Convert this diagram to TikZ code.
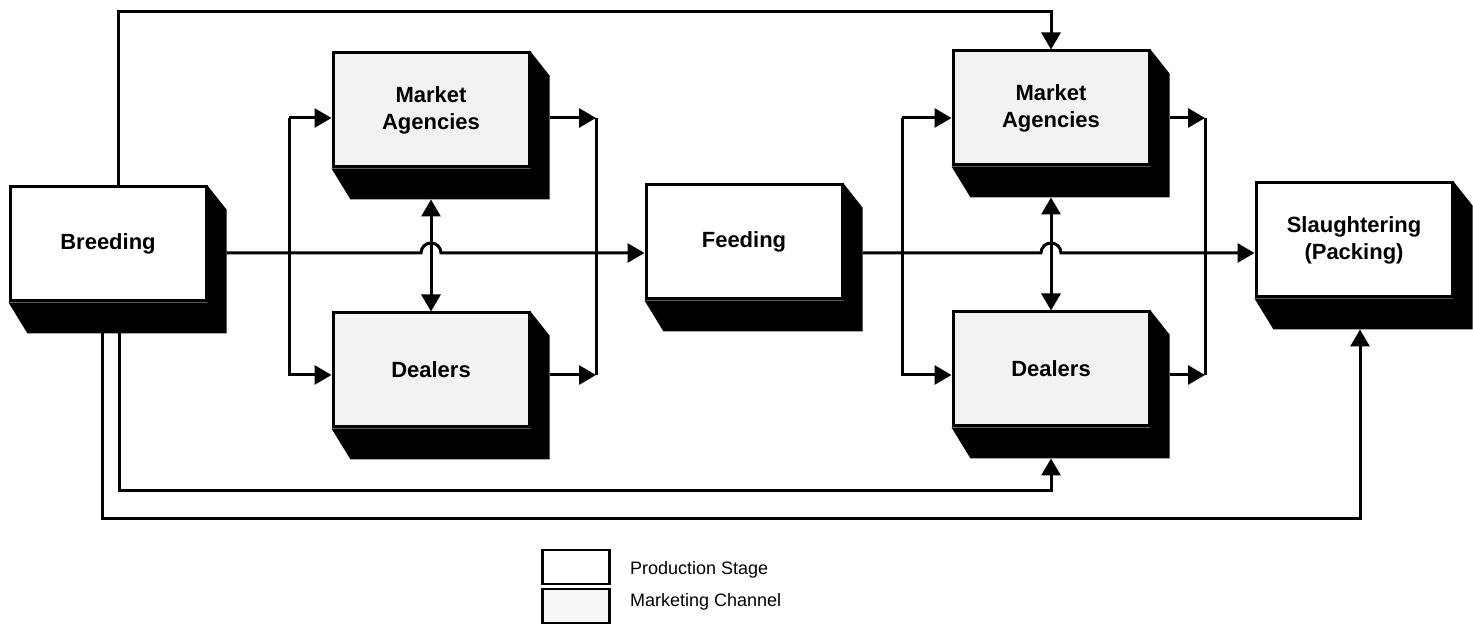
\documentclass[tikz,border=0pt]{standalone}
\usepackage{fontspec}
\setmainfont{Liberation Sans}
\usepackage{tikz}
\usetikzlibrary{arrows.meta}
\usetikzlibrary{calc}

\begin{document}
\begin{tikzpicture}[x=0.5pt,y=-0.5pt,
    >={Triangle[length=8.5pt,width=9.5pt]},
    stage/.style={draw,line width=1.5pt,fill=white,minimum width=98pt,minimum height=57pt,
      font=\fontsize{11}{13.5}\selectfont\bfseries,align=center},
    channel/.style={stage,fill=black!5},
    link/.style={line width=1.5pt},
    flow/.style={link,->},
    legbox/.style={draw,line width=1.2pt,minimum width=33.5pt,minimum height=17pt},
    legtext/.style={anchor=west,inner sep=0pt,font=\fontsize{9}{11}\selectfont}]

  \useasboundingbox (0,0) rectangle (1473,625);

  % production stages and marketing channels
  \node[stage] (breed) at (108,244) {Breeding};
  \node[channel] (agent1) at (431,110) {Market\\Agencies};
  \node[channel] (deal1) at (431,370) {Dealers};
  \node[stage] (feed) at (744,242) {Feeding};
  \node[channel] (agent2) at (1051,108) {Market\\Agencies};
  \node[channel] (deal2) at (1051,369) {Dealers};
  \node[stage] (slaugh) at (1354,240) {Slaughtering\\(Packing)};

  \foreach \b in {breed,agent1,deal1,feed,agent2,deal2,slaugh}
      \fill (\b.north east) -- ++(19,24) -- ($(\b.south east)+(19,31)$)
          -- ($(\b.south west)+(19,31)$) -- (\b.south west) -- (\b.south east) -- cycle;

  \coordinate (main) at (0,253);
  \coordinate (hi) at (0,118);
  \coordinate (lo) at (0,375);
  \coordinate (top) at (0,12);
  \coordinate (low1) at (0,491);
  \coordinate (low2) at (0,519);
  \coordinate (busA) at (289,0);
  \coordinate (busB) at (596,0);
  \coordinate (busC) at (902,0);
  \coordinate (busD) at (1205,0);

  % main line with hops
  \draw[flow] ($(breed.east |- main)+(19,0)$) -- ($(agent1.south |- main)+(-10,0)$)
      arc[start angle=180,end angle=360,radius=10] -- (feed.west |- main);
  \draw[flow] ($(feed.east |- main)+(19,0)$) -- ($(agent2.south |- main)+(-10,0)$)
      arc[start angle=180,end angle=360,radius=10] -- (slaugh.west |- main);

  \draw[link,<->] ($(agent1.south)+(0,31)$) -- (deal1.north);
  \draw[link,<->] ($(agent2.south)+(0,31)$) -- (deal2.north);

  % buses
  \draw[flow] (busA |- hi) -- (agent1.west |- hi);
  \draw[flow] (busA |- hi) |- (deal1.west |- lo);
  \draw[flow] ($(agent1.east |- hi)+(19,0)$) -- (busB |- hi);
  \draw[flow] ($(deal1.east |- lo)+(19,0)$) -- (busB |- lo);
  \draw[link] (busB |- hi) -- (busB |- lo);

  \draw[flow] (busC |- hi) -- (agent2.west |- hi);
  \draw[flow] (busC |- hi) |- (deal2.west |- lo);
  \draw[flow] ($(agent2.east |- hi)+(19,0)$) -- (busD |- hi);
  \draw[flow] ($(deal2.east |- lo)+(19,0)$) -- (busD |- lo);
  \draw[link] (busD |- hi) -- (busD |- lo);

  % direct routes
  \draw[flow] ($(breed.north)+(10,0)$) |- (top -| agent2.north) -- (agent2.north);
  \draw[flow] ($(breed.south)+(11,31)$) |- (low1 -| deal2.south) -- ($(deal2.south)+(0,31)$);
  \draw[flow] ($(breed.south)+(-6,31)$) |- ($(low2 -| slaugh.south)+(6,0)$)
      -- ($(slaugh.south)+(6,31)$);

  % legend
  \node[legbox] (legstage) at (576,567) {};
  \node[legbox,fill=black!3] (legchan) at (576,606) {};
  \node[legtext] (legstagetxt) at ($(legstage.east)+(19,3)$) {Production Stage};
  \node[legtext] (legchantxt) at ($(legchan.east)+(19,-4)$) {Marketing Channel};

\end{tikzpicture}
\end{document}
